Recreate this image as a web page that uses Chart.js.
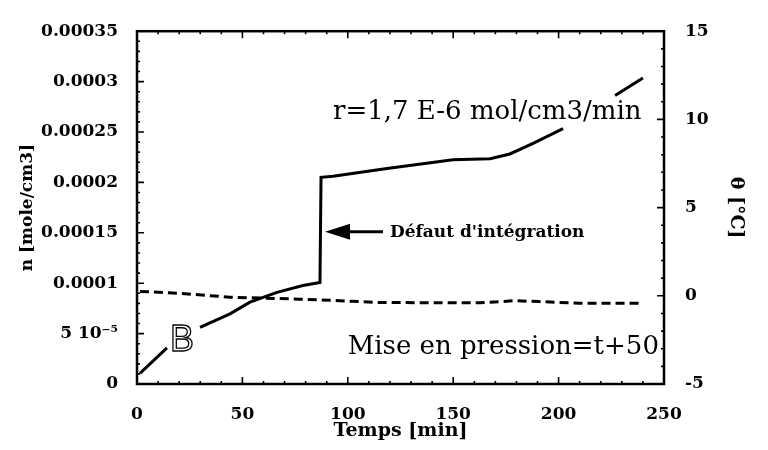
<!DOCTYPE html>
<html lang="fr">
<head>
<meta charset="UTF-8">
<title>n et θ en fonction du temps</title>
<script src="https://cdn.jsdelivr.net/npm/chart.js"></script>
<style>
  html, body { margin: 0; padding: 0; background: #fff; }
  #box { width: 768px; height: 450px; position: relative; }
</style>
</head>
<body>
<div id="box"><canvas id="myChart"></canvas></div>
<script>
// courbe n [mole/cm3] (null = trou dans le trait, sous le texte)
const tempsN = [1.4, 14.2, 22, 29.9, 44.1, 53.6, 66.4, 78.7, 86.8, 87.3, 93.0, 118.6, 149.9, 167.5, 176.9, 187.9, 202.1, 214, 226.8, 240.0];
const valeursN = [1.06e-5, 3.58e-5, null, 5.61e-5, 6.96e-5, 8.12e-5, 9.09e-5, 9.77e-5, 1.006e-4, 2.05e-4, 2.06e-4, 2.137e-4, 2.224e-4, 2.234e-4, 2.282e-4, 2.388e-4, 2.533e-4, null, 2.862e-4, 3.036e-4];

// courbe θ [°C] (pointillés, axe de droite)
const tempsT = [1.4, 20.4, 44.1, 77.2, 91.4, 115.1, 162.5, 179.1, 191, 210, 238.6];
const valeursT = [0.25, 0.14, -0.08, -0.19, -0.25, -0.38, -0.4, -0.28, -0.33, -0.42, -0.42];

// étiquettes des axes
const ticksX = ['0', '50', '100', '150', '200', '250'];
const ticksN = ['0', '5 10\u207B\u2075', '0.0001', '0.00015', '0.0002', '0.00025', '0.0003', '0.00035'];
const ticksT = ['-5', '0', '5', '10', '15'];

const serif = '"DejaVu Serif", "Liberation Serif", serif';

// cadre + graduations intérieures + annotations
const cadre = {
    id: 'cadre',
    afterDatasetsDraw(chart) {
        const {ctx, chartArea: a, scales} = chart;
        const sx = scales.x, sn = scales.yN, st = scales.yT;
        ctx.save();
        ctx.strokeStyle = '#000';
        ctx.fillStyle = '#000';

        ctx.lineWidth = 2.5;
        ctx.strokeRect(a.left, a.top, a.right - a.left, a.bottom - a.top);

        ctx.lineWidth = 1.6;
        ctx.beginPath();
        for (let v = 0; v <= 250; v += 10) {
            const px = sx.getPixelForValue(v);
            const l = v % 50 === 0 ? 7 : 3;
            ctx.moveTo(px, a.bottom); ctx.lineTo(px, a.bottom - l);
            ctx.moveTo(px, a.top); ctx.lineTo(px, a.top + l);
        }
        for (let i = 0; i <= 35; i++) {
            const py = sn.getPixelForValue(i * 1e-5);
            const l = i % 5 === 0 ? 7 : 3;
            ctx.moveTo(a.left, py); ctx.lineTo(a.left + l, py);
        }
        for (let v = -5; v <= 15; v++) {
            const py = st.getPixelForValue(v);
            const l = v % 5 === 0 ? 7 : 3;
            ctx.moveTo(a.right, py); ctx.lineTo(a.right - l, py);
        }
        ctx.stroke();

        // textes dans le graphique
        ctx.textBaseline = 'alphabetic';
        ctx.font = '26px ' + serif;
        ctx.textAlign = 'left';
        ctx.fillText('r=1,7 E-6 mol/cm3/min', sx.getPixelForValue(93), sn.getPixelForValue(2.63e-4));
        ctx.textAlign = 'right';
        ctx.fillText('Mise en pression=t+50', sx.getPixelForValue(247.6), sn.getPixelForValue(3.0e-5));
        ctx.textAlign = 'left';
        ctx.font = 'bold 17px ' + serif;
        ctx.fillText("Défaut d'intégration", sx.getPixelForValue(120), sn.getPixelForValue(1.46e-4));

        // flèche
        const x0 = sx.getPixelForValue(89.2), x1 = sx.getPixelForValue(116.7), y0 = sn.getPixelForValue(1.51e-4);
        ctx.lineWidth = 3;
        ctx.beginPath();
        ctx.moveTo(x0 + 20, y0); ctx.lineTo(x1, y0);
        ctx.stroke();
        ctx.beginPath();
        ctx.moveTo(x0, y0); ctx.lineTo(x0 + 25, y0 - 8); ctx.lineTo(x0 + 25, y0 + 8);
        ctx.closePath();
        ctx.fill();

        // lettre B en contour
        ctx.font = '36px "Liberation Sans", sans-serif';
        ctx.lineWidth = 1.3;
        ctx.strokeText('B', sx.getPixelForValue(15.7), sn.getPixelForValue(3.3e-5));
        ctx.restore();
    }
};

const data = {
    datasets: [{
        label: 'n',
        data: tempsN.map((t, i) => ({x: t, y: valeursN[i]})),
        yAxisID: 'yN',
        borderColor: '#000',
        borderWidth: 3,
        pointRadius: 0,
        tension: 0
    }, {
        label: 'θ',
        data: tempsT.map((t, i) => ({x: t, y: valeursT[i]})),
        yAxisID: 'yT',
        borderColor: '#000',
        borderWidth: 3,
        borderDash: [9, 5],
        pointRadius: 0,
        tension: 0
    }]
};

const tickFont = { family: serif, size: 17, weight: 'bold' };

const options = {
    responsive: false,
    animation: false,
    spanGaps: false,
    layout: { padding: { top: 22, left: 0, right: 0, bottom: 0 } },
    plugins: { legend: { display: false }, tooltip: { enabled: false } },
    scales: {
        x: {
            type: 'linear', min: 0, max: 250,
            grid: { display: false, drawTicks: false },
            border: { display: false },
            ticks: { stepSize: 50, padding: 20, color: '#000', font: tickFont,
                callback: (v, i) => ticksX[i] },
            title: { display: true, text: 'Temps [min]', color: '#000',
                font: { family: serif, size: 19, weight: 'bold' }, padding: { top: 0, bottom: 8 } },
            afterFit: (s) => { s.height = 66; }
        },
        yN: {
            position: 'left', min: 0, max: 0.00035,
            grid: { display: false, drawTicks: false },
            border: { display: false },
            ticks: { stepSize: 0.00005, padding: 19, color: '#000', font: tickFont,
                callback: (v, i) => ticksN[i] },
            title: { display: true, text: 'n [mole/cm3]', color: '#000',
                font: { family: serif, size: 17, weight: 'bold' }, padding: { top: 17, bottom: 0 } },
            afterFit: (s) => { s.width = 137; }
        },
        yT: {
            position: 'right', min: -5, max: 15,
            grid: { display: false, drawTicks: false },
            border: { display: false },
            ticks: { stepSize: 5, padding: 21, color: '#000', font: tickFont,
                callback: (v, i) => ticksT[i] },
            title: { display: true, text: 'θ [°C]', color: '#000',
                font: { family: serif, size: 19, weight: 'bold' }, padding: { top: 21, bottom: 0 } },
            afterFit: (s) => { s.width = 104; }
        }
    }
};

const canvas = document.querySelector('#myChart');
canvas.width = 768;
canvas.height = 450;
const myChart = new Chart(canvas.getContext('2d'), {
    type: 'line',
    data: data,
    options: options,
    plugins: [cadre]
});
</script>
</body>
</html>
